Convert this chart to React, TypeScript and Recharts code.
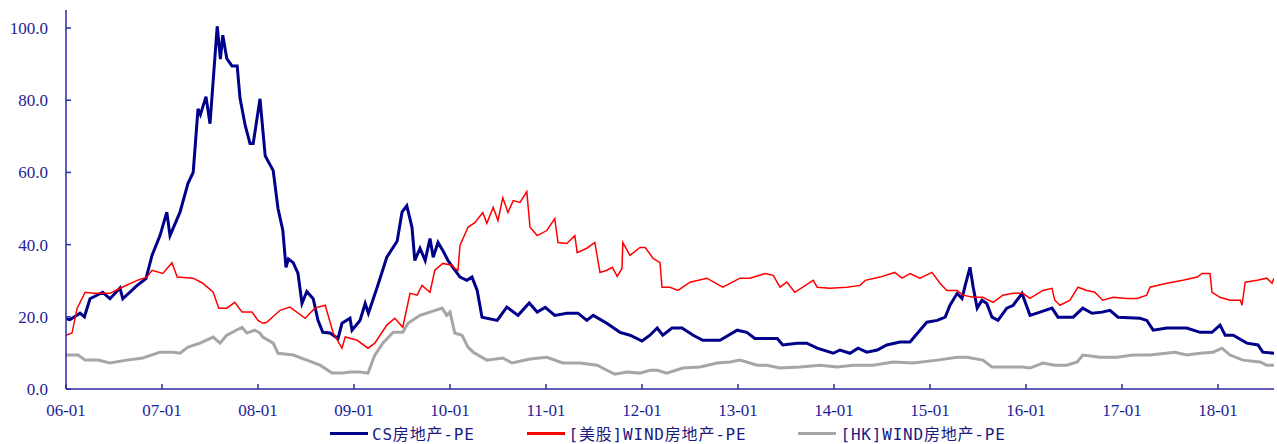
import { JSX } from 'react';
import { Legend, Line, LineChart, XAxis, YAxis } from 'recharts';

// x = months since 2006-01, y = PE
const csPe: [number, number][] = [
  [0, 19.5], [0.5, 19.2], [1.75, 21], [2.3, 20], [3, 25], [4.6, 26.8], [5.5, 25], [6.75, 28], [7.1, 25],
  [8.9, 28.7], [10, 30.6], [10.75, 37], [11.75, 42.5], [12.6, 49], [13, 42.5], [14.25, 49], [15.25, 57],
  [15.9, 60], [16.5, 77.6], [16.8, 76], [17.5, 81], [18, 73.5], [18.9, 100.5], [19.3, 91.4], [19.6, 98],
  [20.1, 91.5], [20.75, 89.5], [21.4, 89.5], [21.75, 80.6], [22.4, 73], [23, 68], [23.4, 68], [24.25, 80.4],
  [24.9, 64.6], [25.9, 60.5], [26.5, 50], [27.1, 44], [27.5, 33.7], [27.8, 36], [28.4, 35], [29, 32],
  [29.5, 23.7], [30.1, 27], [30.9, 25], [31.5, 19], [32.1, 15.7], [33, 15.5], [34, 14], [34.5, 18.2],
  [35.5, 19.6], [35.75, 16.3], [36.75, 19], [37.4, 23.7], [37.8, 21], [38.9, 28.2], [40.1, 36.5],
  [41.4, 41], [42, 49], [42.6, 50.8], [43.25, 44.8], [43.6, 35.6], [44.25, 39], [44.9, 35.6], [45.5, 41.7],
  [45.9, 36.5], [46.5, 40.6], [47.1, 38.4], [47.75, 35.6], [48, 34.8], [49.25, 31], [50.1, 30.1],
  [50.75, 31], [51.4, 27.3], [52, 19.9], [53.9, 19], [55.1, 22.7], [56.5, 20.4], [57.9, 23.8], [58.9, 21.3],
  [59.9, 22.6], [61.1, 20.4], [62.6, 21], [64, 21], [65.1, 19], [65.9, 20.4], [67.6, 18.2], [69.25, 15.7],
  [70.5, 14.9], [72, 13.3], [73, 14.9], [73.9, 16.9], [74.6, 14.9], [75.75, 16.9], [77, 16.9], [78.4, 14.9],
  [79.6, 13.5], [81.75, 13.5], [83.9, 16.3], [85.1, 15.7], [86.1, 14], [87.6, 14], [88.9, 14], [89.6, 12.2],
  [91.4, 12.7], [92.6, 12.7], [93.9, 11.3], [95.9, 9.9], [96.75, 10.8], [98, 9.9], [99, 11.3], [100.1, 10.2],
  [101.4, 10.8], [102.6, 12.2], [104.25, 13], [105.5, 13], [106.75, 16.3], [107.6, 18.5], [108.9, 19],
  [109.9, 19.9], [110.5, 23.2], [111.4, 26.5], [112, 25.1], [112.4, 28.7], [113, 33.7], [113.4, 28.2],
  [113.9, 22.4], [114.5, 24.6], [115.1, 23.7], [115.75, 19.9], [116.5, 19], [117.6, 22.4], [118.4, 23.2],
  [119.5, 26.5], [120.5, 20.4], [121.75, 21.3], [123.25, 22.4], [124, 19.9], [125.9, 19.9], [127.1, 22.4],
  [128.25, 21], [129.5, 21.3], [130.5, 21.8], [131.5, 19.9], [134.25, 19.6], [135.1, 19], [135.9, 16.3],
  [137.6, 16.9], [140.1, 16.9], [141.75, 15.7], [143.25, 15.7], [144.25, 17.7], [144.9, 14.9],
  [145.9, 14.9], [147.6, 12.7], [149, 12.2], [149.6, 10.2], [151, 9.9],
];

const usPe: [number, number][] = [
  [0, 14.9], [0.75, 15.5], [1.4, 22.4], [2.4, 26.8], [3.4, 26.5], [5.5, 26.5], [6.75, 27.9], [8.9, 30.1],
  [10.1, 31], [10.75, 32.9], [12.1, 32], [13.25, 35], [13.9, 31], [15.9, 30.7], [17.1, 29.3], [18.4, 26.8],
  [19.1, 22.4], [20.1, 22.4], [21.1, 24], [22, 21.3], [23.25, 21.3], [24, 19], [24.6, 18.2], [25.1, 18.5],
  [26.75, 21.8], [28, 22.7], [29.9, 19.6], [31.1, 22.4], [32.4, 23.2], [33.4, 15.5], [34.5, 11.3],
  [34.9, 14.4], [36.4, 13.5], [37.75, 11.3], [38.6, 12.7], [40.1, 17.7], [41.1, 19.6], [42.1, 17.1],
  [43, 26.5], [43.9, 26], [44.5, 28.7], [45.5, 26.8], [46.1, 32.9], [47.1, 34.8], [48.25, 34.3],
  [48.6, 33.4], [49, 32.9], [49.25, 39.8], [50.25, 44.8], [51.1, 46.1], [52.1, 48.9], [52.6, 45.9],
  [53.4, 50.3], [54, 46.7], [54.6, 53], [55.25, 48.9], [55.9, 52.2], [56.75, 51.7], [57.6, 54.7], [58, 44.8],
  [58.9, 42.5], [60.1, 43.9], [61.1, 47.2], [61.5, 40.6], [62.6, 40.3], [63.6, 42.5], [63.9, 37.8],
  [65.1, 39], [66.1, 40.6], [66.75, 32.3], [67.6, 32.9], [68.3, 33.7], [68.9, 31.2], [69.5, 33.4],
  [69.6, 40.6], [70.5, 37], [71.75, 39.2], [72.4, 39.2], [73.4, 36.2], [74.25, 35], [74.5, 28.2],
  [75.5, 28.2], [76.5, 27.3], [78, 29.6], [80.1, 30.7], [82.1, 28.2], [84.25, 30.7], [85.5, 30.7],
  [87.4, 32], [88.4, 31.5], [89.25, 28.2], [90.1, 29.6], [91.1, 26.8], [93.4, 30.1], [93.9, 28.2],
  [95.5, 27.9], [97.6, 28.2], [99.25, 28.7], [99.9, 30.1], [101.75, 31], [103.6, 32.3], [104.5, 30.7],
  [105.5, 32], [106.75, 30.7], [108.25, 32.3], [109.25, 29.3], [110.1, 27.3], [111.4, 27.3], [112.1, 26],
  [113.4, 25.4], [114.6, 25.4], [115.9, 24], [117.1, 26], [118.4, 26.5], [119.6, 26.5], [120.5, 25.1],
  [122.1, 27.3], [123.25, 27.9], [123.6, 24.6], [124.25, 23.2], [125.5, 24.6], [126.5, 28.2],
  [127.6, 27.3], [128.6, 26.8], [129.6, 24.6], [130.9, 25.4], [132.6, 25.1], [133.9, 25.1], [135.1, 26],
  [135.5, 28.2], [137.6, 29.3], [139.6, 30.1], [141.4, 31], [142, 32], [143, 32], [143.25, 26.8],
  [144.25, 25.4], [145.5, 24.6], [146.8, 24.6], [147, 23.2], [147.4, 29.6], [148.9, 30.1], [150.1, 30.7],
  [150.75, 29.3], [151, 30.7],
];

const hkPe: [number, number][] = [
  [0, 9.4], [1.5, 9.4], [2.4, 8], [4, 8], [5.5, 7.2], [7.6, 8], [9.6, 8.6], [11.75, 10.2], [13.4, 10.2],
  [14.25, 9.9], [15.25, 11.6], [16.75, 12.7], [18.4, 14.4], [19.25, 12.7], [20.1, 14.9], [22, 17.1],
  [22.6, 15.5], [23.6, 16.3], [24.25, 15.5], [24.6, 14.4], [25.9, 12.7], [26.5, 9.9], [28.4, 9.4],
  [30.1, 8], [31.75, 6.6], [33.25, 4.4], [34.5, 4.4], [35.5, 4.7], [36.75, 4.7], [37.75, 4.4], [38.6, 9.4],
  [39.6, 12.7], [40.9, 15.7], [42.1, 15.7], [42.75, 18.2], [44.25, 20.4], [45.5, 21.3], [47, 22.4],
  [47.6, 20.4], [48, 21.3], [48.6, 15.5], [49.5, 14.9], [50.25, 11.6], [50.9, 10.2], [52.6, 8], [54.6, 8.6],
  [55.75, 7.2], [58, 8.3], [60.1, 8.8], [62.1, 7.2], [64.25, 7.2], [66.4, 6.6], [67.6, 5.2], [68.6, 4.1],
  [70.1, 4.7], [71.75, 4.4], [73, 5.2], [73.9, 5.2], [75.1, 4.4], [77.1, 5.8], [79.25, 6.1], [81.4, 7.2],
  [83, 7.5], [84.25, 8], [86.4, 6.6], [87.6, 6.6], [89.25, 5.8], [91.75, 6.1], [94.25, 6.6], [96.4, 6.1],
  [98.4, 6.6], [100.9, 6.6], [103.4, 7.5], [105.9, 7.2], [108.9, 8], [111.4, 8.8], [112.6, 8.8],
  [114.6, 8], [115.75, 6.1], [117.6, 6.1], [119.5, 6.1], [120.5, 5.8], [122.1, 7.2], [123.6, 6.6],
  [125.1, 6.6], [126.4, 7.5], [127.1, 9.4], [129.25, 8.8], [131.4, 8.8], [133.4, 9.4], [135.5, 9.4],
  [138.6, 10.2], [140.1, 9.4], [141.75, 9.9], [143.4, 10.2], [144.5, 11.3], [145.5, 9.4], [147.1, 8],
  [149.25, 7.5], [150.1, 6.6], [151, 6.6],
];

const xTicks = [0, 12, 24, 36, 48, 60, 72, 84, 96, 108, 120, 132, 144];
const yTicks = [0, 20, 40, 60, 80, 100];

const series = [
  { name: 'CS房地产-PE', points: csPe, color: '#00008b', width: 3 },
  { name: '[美股]WIND房地产-PE', points: usPe, color: '#ff0000', width: 1.5 },
  { name: '[HK]WIND房地产-PE', points: hkPe, color: '#a6a6a6', width: 3 },
];

const AXIS = '#2b2ba3';
const TEXT = '#1e1e96';
const SERIF = '"Liberation Serif", "Times New Roman", serif';

const toRows = (pts: [number, number][]) => pts.map(([t, v]) => ({ t, v }));

const fmtMonth = (m: number) => `${String(6 + m / 12).padStart(2, '0')}-01`;

function renderLegend() {
  return (
    <div style={{ display: 'flex', alignItems: 'center', paddingLeft: 330, height: 22 }}>
      {series.map((s, i) => (
        <div key={s.name} style={{ display: 'flex', alignItems: 'center', marginRight: i < 2 ? 52 : 0 }}>
          <div style={{ width: 38, height: 3, background: s.color }} />
          <span
            style={{
              marginLeft: 4,
              fontFamily: '"DejaVu Sans Mono", "Noto Sans CJK SC", monospace',
              fontSize: 16,
              letterSpacing: 0.8,
              color: '#1a1a80',
              whiteSpace: 'nowrap',
            }}
          >
            {s.name}
          </span>
        </div>
      ))}
    </div>
  );
}

export default function App(): JSX.Element {
  return (
    <div style={{ position: 'absolute', left: 0, top: 0, fontFamily: SERIF }}>
      <LineChart width={1277} height={444} margin={{ top: 10, right: 3, bottom: 0, left: 0 }}>
        <XAxis
          dataKey="t"
          type="number"
          domain={[0, 151]}
          ticks={xTicks}
          tickFormatter={fmtMonth}
          height={33}
          tickSize={-5}
          tickMargin={20}
          stroke={AXIS}
          strokeWidth={1.5}
          tick={{ fill: TEXT, fontSize: 17, fontFamily: SERIF }}
          allowDataOverflow
        />
        <YAxis
          type="number"
          domain={[0, 105]}
          ticks={yTicks}
          tickFormatter={(v: number) => v.toFixed(1)}
          width={66}
          tickSize={-5}
          tickMargin={23}
          stroke={AXIS}
          strokeWidth={1.5}
          tick={{ fill: TEXT, fontSize: 17, fontFamily: SERIF }}
          allowDataOverflow
        />
        {series.map((s) => (
          <Line
            key={s.name}
            data={toRows(s.points)}
            dataKey="v"
            name={s.name}
            type="linear"
            stroke={s.color}
            strokeWidth={s.width}
            dot={false}
            activeDot={false}
            isAnimationActive={false}
          />
        ))}
        <Legend
          verticalAlign="bottom"
          height={22}
          content={renderLegend}
          wrapperStyle={{ left: 0, width: 1277, bottom: 0 }}
        />
      </LineChart>
    </div>
  );
}
